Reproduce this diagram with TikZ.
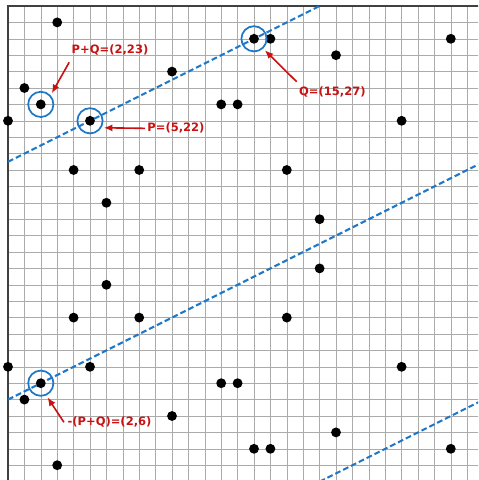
\documentclass[tikz,border=0pt]{standalone}
\usepackage{fontspec}
\setsansfont{DejaVu Sans}
\usepackage{xcolor}
\usepackage{tikz}
\usetikzlibrary{arrows.meta, positioning, calc}
\definecolor{lineblue}{RGB}{31,119,200}
\definecolor{labelred}{RGB}{200,18,18}
\tikzset{
  gridline/.style={draw=black!33, line width=0.5pt},
  border/.style={draw=black!75, line width=0.9pt},
  secant/.style={lineblue, line width=1.8pt, dash pattern=on 5pt off 2.6pt},
  curvept/.style={fill=black},
  ring/.style={draw=lineblue, circle, line width=1.5pt, minimum size=7.7mm, inner sep=0pt},
  ptlabel/.style={labelred, font=\sffamily\bfseries\fontsize{10}{12}\selectfont, inner sep=1pt},
  pointer/.style={-{Latex[length=2.6mm, width=2.2mm]}, labelred, line width=1.4pt, shorten >=2pt}
}

\begin{document}
\begin{tikzpicture}[x=0.5cm,y=0.5cm]
    \useasboundingbox (-0.488,0.098) rectangle (28.659,29.366);
    \clip (-0.488,0.098) rectangle (28.659,29.366);
    \foreach \k in {1,...,28} {
        \draw[gridline] (\k,0) -- (\k,29);
        \draw[gridline] (0,\k) -- (29,\k);
    }
    \draw[border] (0,0) rectangle (29,29);
    \draw[secant] (0,19.5) -- (19,29);
    \draw[secant] (0,5) -- (29,19.5);
    \draw[secant] (19,0) -- (29,5);
    \foreach \px/\py in {0/7,0/22,1/5,1/24,2/6,2/23,3/1,3/28,4/10,4/19,5/7,5/22,
                         6/12,6/17,8/10,8/19,10/4,10/25,13/6,13/23,14/6,14/23,
                         15/2,15/27,16/2,16/27,17/10,17/19,19/13,19/16,20/3,20/26,
                         24/7,24/22,27/2,27/27}
        \fill[curvept] (\px,\py) circle[radius=0.3];
    \node[ring] (ringP) at (5,22) {};
    \node[ring] (ringQ) at (15,27) {};
    \node[ring] (ringPQ) at (2,23) {};
    \node[ring] (ringNeg) at (2,6) {};
    \node[ptlabel] (lblPQ) at (6.22,26.32) {P+Q=(2,23)};
    \node[ptlabel] (lblP) at (10.24,21.54) {P=(5,22)};
    \node[ptlabel] (lblQ) at (19.78,23.77) {Q=(15,27)};
    \node[ptlabel] (lblNeg) at (6.19,3.62) {-(P+Q)=(2,6)};
    \draw[pointer] ([xshift=-1pt,yshift=-5pt]lblPQ.south west) -- (ringPQ.43);
    \draw[pointer] ([xshift=-1pt]lblP.west) -- (ringP.-31);
    \draw[pointer] ([xshift=-1pt,yshift=3pt]lblQ.north west) -- (ringQ.-47);
    \draw[pointer] ([xshift=-2pt]lblNeg.west) -- (ringNeg.-66);
\end{tikzpicture}
\end{document}
